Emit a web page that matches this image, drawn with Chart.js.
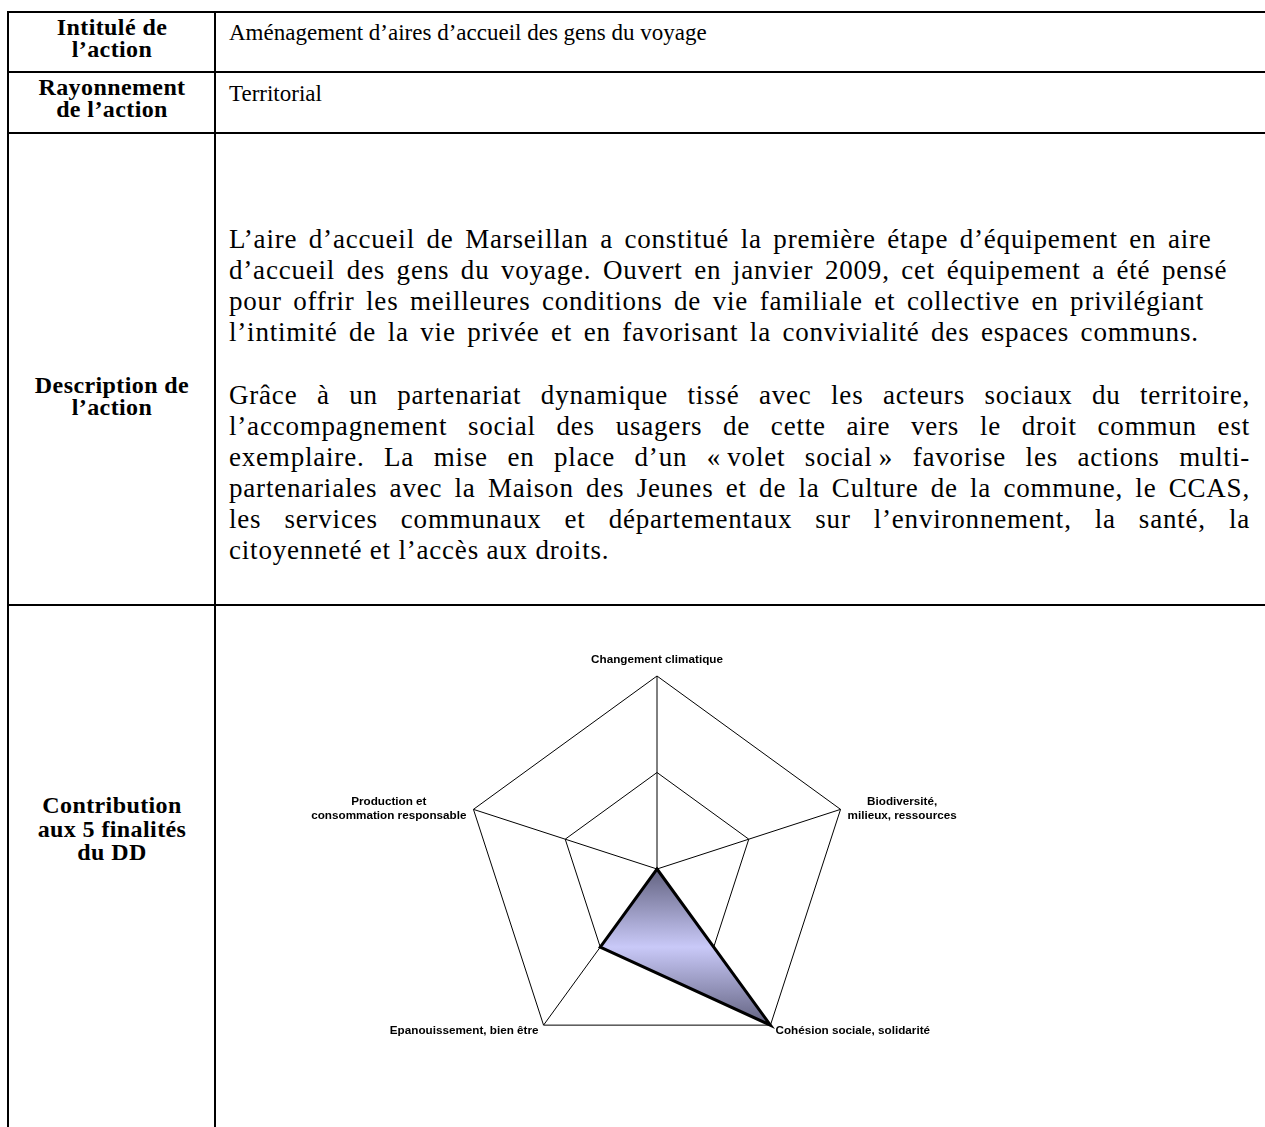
<!DOCTYPE html>
<html>
<head>
<meta charset="utf-8">
<script src="https://cdn.jsdelivr.net/npm/chart.js@4/dist/chart.umd.min.js"></script>
<style>
  html, body { margin: 0; padding: 0; background: #fff; width: 1265px; height: 1127px; overflow: hidden; }
  body { position: relative; font-family: "Liberation Serif", "Times New Roman", serif; color: #000; }
  .hl { position: absolute; left: 7px; width: 1300px; height: 2px; background: #000; }
  .vl { position: absolute; top: 11px; width: 2px; height: 1200px; background: #000; }
  .head { position: absolute; left: 9px; width: 206px; text-align: center; font-weight: bold; font-size: 24px; letter-spacing: 0.4px; line-height: 22px; }
  .txt { position: absolute; left: 229px; font-size: 23px; line-height: 31px; white-space: nowrap; }
  .desc { font-size: 27px; letter-spacing: 0.8px; word-spacing: 4px; }
  .just { width: 1021px; text-align: justify; text-align-last: justify; white-space: normal; word-spacing: 0; }
  #chartBox { position: absolute; left: 257px; top: 636px; }
</style>
</head>
<body>

<div class="hl" style="top:11px"></div>
<div class="hl" style="top:71px"></div>
<div class="hl" style="top:132px"></div>
<div class="hl" style="top:604px"></div>
<div class="vl" style="left:7px"></div>
<div class="vl" style="left:214px"></div>

<div class="head" style="top:16px">Intitulé de<br>l’action</div>
<div class="head" style="top:76px">Rayonnement<br>de l’action</div>
<div class="head" style="top:374px">Description de<br>l’action</div>
<div class="head" style="top:794px; line-height:23.5px">Contribution<br>aux 5 finalités<br>du DD</div>

<div class="txt" style="top:17px">Aménagement d’aires d’accueil des gens du voyage</div>
<div class="txt" style="top:78px">Territorial</div>

<div class="txt desc" style="top:224px">
L’aire d’accueil de Marseillan a constitué la première étape d’équipement en aire<br>
d’accueil des gens du voyage. Ouvert en janvier 2009, cet équipement a été pensé<br>
pour offrir les meilleures conditions de vie familiale et collective en privilégiant<br>
l’intimité de la vie privée et en favorisant la convivialité des espaces communs.
</div>

<div class="txt desc" style="top:380px">
  <div class="just">Grâce à un partenariat dynamique tissé avec les acteurs sociaux du territoire,</div>
  <div class="just">l’accompagnement social des usagers de cette aire vers le droit commun est</div>
  <div class="just">exemplaire. La mise en place d’un «&#8239;volet social&#8239;» favorise les actions multi-</div>
  <div class="just">partenariales avec la Maison des Jeunes et de la Culture de la commune, le CCAS,</div>
  <div class="just">les services communaux et départementaux sur l’environnement, la santé, la</div>
  <div style="word-spacing:0">citoyenneté et l’accès aux droits.</div>
</div>

<div id="chartBox"><canvas id="radar" width="800" height="486"></canvas></div>

<script>
// the 5 axes of the radar, top then clockwise
var axisNames = [
    "Changement climatique",
    ["Biodiversité,", "milieux, ressources"],
    "Cohésion sociale, solidarité",
    "Epanouissement, bien être",
    ["Production et", "consommation responsable"]
]
var scores = [0, 0, 2, 1, 0]
var scaleMin = 0
var scaleMax = 2

function fillGradient(context) {
    var chart = context.chart
    var scale = chart.scales.r
    if (!chart.chartArea || !scale || scale.xCenter === undefined) return "#c9c9f7"
    var ys = scores.map((v, i) => scale.getPointPositionForValue(i, v).y)
    var top = Math.min(...ys)
    var bottom = Math.max(...ys)
    var g = chart.ctx.createLinearGradient(0, top, 0, bottom)
    g.addColorStop(0, "#626280")
    g.addColorStop(0.5, "#c9c9f8")
    g.addColorStop(1, "#626280")
    return g
}

// axis names drawn next to the outer ring, like the original
const axisNamePlugin = {
    id: "axisNames",
    afterDraw(chart) {
        const scale = chart.scales.r
        const ctx = chart.ctx
        const lh = 14
        ctx.save()
        ctx.font = "bold 11.7px 'Liberation Sans', Arial, sans-serif"
        ctx.fillStyle = "#000"
        ctx.textBaseline = "middle"
        ctx.textAlign = "center"
        axisNames.forEach((name, i) => {
            const lines = [].concat(name)
            const p = scale.getPointPositionForValue(i, scale.max)
            const w = Math.max(...lines.map(l => ctx.measureText(l).width))
            const dx = p.x - scale.xCenter
            let cx, cy
            if (Math.abs(dx) < 1) {
                cx = p.x
                cy = p.y - 16
            } else if (p.y > scale.yCenter) {
                cx = dx > 0 ? p.x + 5 + w / 2 : p.x - 5 - w / 2
                cy = p.y + 6
            } else {
                cx = dx > 0 ? p.x + 7 + w / 2 : p.x - 7 - w / 2
                cy = p.y - 1
            }
            lines.forEach((l, k) => {
                ctx.fillText(l, cx, cy + (k - (lines.length - 1) / 2) * lh)
            })
        })
        ctx.restore()
    }
}

const config = {
    type: "radar",
    data: {
        labels: axisNames,
        datasets: [{
            label: "Contribution",
            data: scores,
            backgroundColor: fillGradient,
            borderColor: "#000",
            borderWidth: 3,
            pointRadius: 0,
            fill: true,
        }]
    },
    options: {
        responsive: false,
        animation: false,
        layout: {
            padding: { top: 40, bottom: 60, left: 200, right: 200 }
        },
        plugins: {
            legend: { display: false },
            tooltip: { enabled: false },
        },
        scales: {
            r: {
                min: scaleMin,
                max: scaleMax,
                ticks: { display: false, stepSize: 1 },
                grid: { color: "#000", lineWidth: 1 },
                angleLines: { color: "#000", lineWidth: 1 },
                pointLabels: { display: false },
            }
        }
    },
    plugins: [axisNamePlugin]
}

const radarChart = new Chart(document.getElementById("radar"), config)
</script>
</body>
</html>
